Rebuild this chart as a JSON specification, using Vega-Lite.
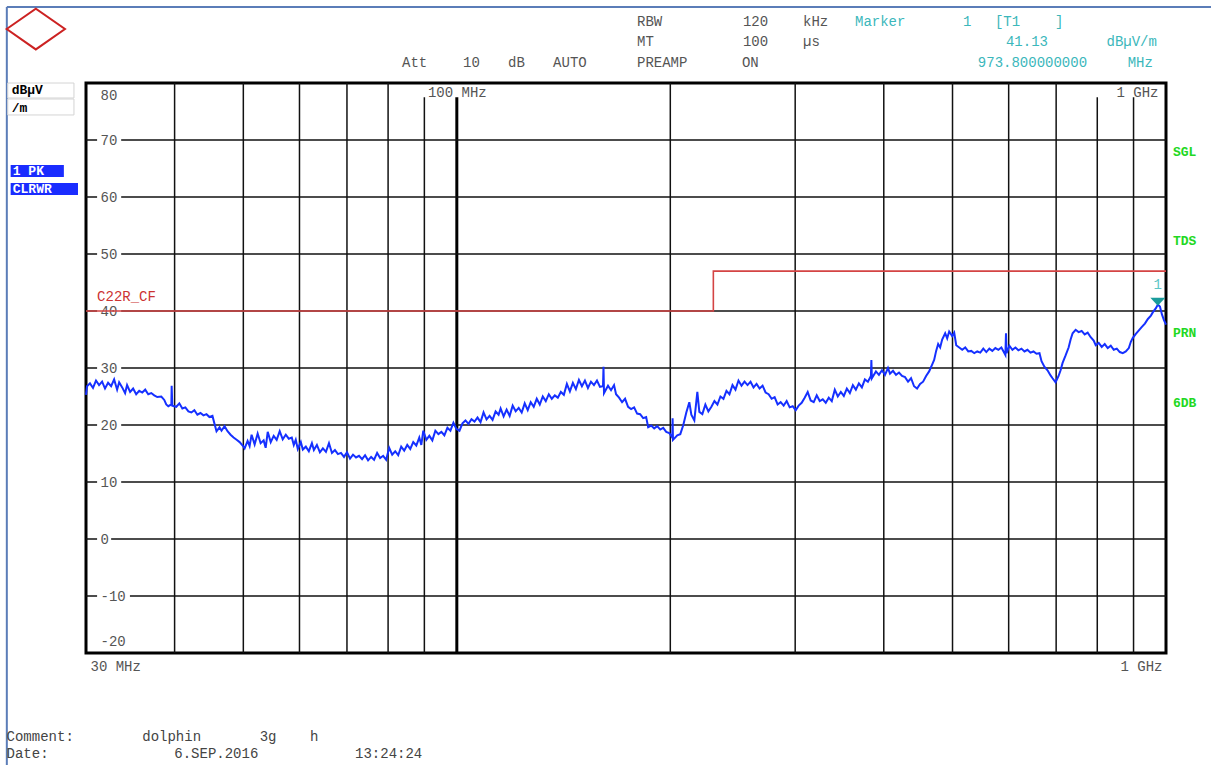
{
  "$schema": "https://vega.github.io/schema/vega-lite/v6.json",
  "width": 1080,
  "height": 570,
  "autosize": {"type": "none"},
  "padding": {"left": 86, "top": 83, "right": 45, "bottom": 112},
  "background": "white",
  "config": {"view": {"stroke": "#000", "strokeWidth": 3}},
  "resolve": {"axis": {"x": "independent", "y": "independent"}},
  "datasets": {
    "trace": [
      {"f":30.00,"v":25.3},{"f":30.10,"v":26.8},{"f":30.39,"v":27.3},{"f":30.69,"v":26.5},{"f":30.99,"v":27.8},{"f":31.30,"v":27.0},{"f":31.61,"v":27.6},{"f":31.91,"v":26.4},{"f":32.23,"v":27.4},{"f":32.55,"v":26.8},{"f":32.87,"v":28.0},{"f":33.19,"v":26.2},{"f":33.41,"v":27.5},{"f":33.74,"v":26.6},{"f":34.06,"v":25.6},{"f":34.28,"v":27.0},{"f":34.62,"v":25.8},{"f":34.96,"v":26.4},{"f":35.31,"v":25.4},{"f":35.66,"v":26.0},{"f":36.01,"v":25.7},{"f":36.36,"v":26.2},{"f":36.72,"v":25.4},{"f":37.08,"v":25.6},{"f":37.44,"v":25.2},{"f":37.81,"v":24.9},{"f":38.31,"v":25.0},{"f":38.68,"v":24.4},{"f":38.93,"v":23.6},{"f":39.19,"v":23.3},{"f":39.58,"v":23.6},{"f":39.62,"v":26.9},{"f":39.70,"v":23.4},{"f":40.22,"v":23.2},{"f":40.62,"v":23.8},{"f":41.02,"v":22.9},{"f":41.42,"v":23.1},{"f":41.83,"v":22.4},{"f":42.24,"v":22.2},{"f":42.65,"v":22.6},{"f":43.07,"v":21.8},{"f":43.50,"v":22.1},{"f":43.93,"v":21.7},{"f":44.36,"v":21.9},{"f":44.79,"v":21.4},{"f":45.23,"v":21.6},{"f":45.53,"v":20.2},{"f":45.83,"v":18.9},{"f":46.28,"v":19.6},{"f":46.58,"v":19.0},{"f":47.04,"v":19.8},{"f":47.50,"v":18.9},{"f":47.97,"v":18.3},{"f":48.44,"v":17.8},{"f":48.92,"v":17.4},{"f":49.40,"v":17.0},{"f":49.89,"v":16.4},{"f":50.21,"v":15.9},{"f":50.70,"v":17.2},{"f":51.03,"v":16.3},{"f":51.36,"v":18.3},{"f":51.87,"v":16.6},{"f":52.38,"v":18.5},{"f":52.89,"v":16.8},{"f":53.41,"v":17.3},{"f":53.76,"v":16.0},{"f":54.12,"v":18.8},{"f":54.65,"v":17.0},{"f":55.18,"v":18.1},{"f":55.72,"v":17.4},{"f":56.27,"v":18.9},{"f":56.82,"v":17.5},{"f":57.39,"v":18.3},{"f":57.95,"v":17.6},{"f":58.52,"v":17.8},{"f":58.90,"v":16.5},{"f":59.28,"v":17.4},{"f":59.67,"v":15.8},{"f":60.26,"v":17.0},{"f":60.65,"v":15.7},{"f":61.25,"v":16.2},{"f":61.85,"v":15.4},{"f":62.47,"v":16.8},{"f":62.87,"v":15.6},{"f":63.49,"v":16.5},{"f":64.11,"v":15.2},{"f":64.74,"v":15.9},{"f":65.38,"v":15.3},{"f":66.03,"v":16.8},{"f":66.67,"v":15.1},{"f":67.32,"v":15.6},{"f":67.98,"v":14.9},{"f":68.65,"v":15.1},{"f":69.33,"v":14.4},{"f":70.01,"v":15.2},{"f":70.70,"v":14.1},{"f":71.39,"v":14.8},{"f":72.09,"v":14.3},{"f":72.80,"v":14.6},{"f":73.52,"v":14.0},{"f":74.24,"v":14.7},{"f":74.97,"v":13.8},{"f":75.71,"v":14.4},{"f":76.45,"v":13.9},{"f":77.20,"v":15.1},{"f":77.96,"v":14.2},{"f":78.73,"v":14.6},{"f":79.50,"v":13.9},{"f":80.28,"v":16.0},{"f":81.07,"v":14.8},{"f":81.87,"v":15.4},{"f":82.67,"v":14.7},{"f":83.48,"v":16.2},{"f":84.30,"v":15.5},{"f":85.13,"v":16.5},{"f":85.97,"v":15.8},{"f":86.81,"v":17.0},{"f":87.67,"v":16.4},{"f":88.53,"v":17.8},{"f":89.11,"v":16.5},{"f":89.69,"v":19.0},{"f":90.57,"v":17.4},{"f":91.46,"v":18.1},{"f":92.36,"v":17.3},{"f":93.27,"v":19.0},{"f":94.19,"v":18.4},{"f":95.11,"v":18.8},{"f":96.04,"v":18.2},{"f":96.99,"v":19.5},{"f":97.94,"v":19.0},{"f":98.90,"v":20.4},{"f":99.87,"v":19.3},{"f":100.86,"v":19.0},{"f":101.85,"v":20.3},{"f":102.85,"v":20.8},{"f":103.86,"v":20.2},{"f":104.88,"v":21.0},{"f":105.91,"v":20.6},{"f":106.95,"v":21.3},{"f":108.01,"v":20.5},{"f":109.07,"v":22.2},{"f":110.14,"v":21.0},{"f":111.22,"v":21.6},{"f":112.31,"v":20.9},{"f":113.42,"v":22.4},{"f":114.53,"v":21.8},{"f":115.28,"v":22.9},{"f":116.41,"v":21.5},{"f":117.55,"v":22.7},{"f":118.71,"v":21.6},{"f":119.88,"v":23.4},{"f":121.06,"v":22.4},{"f":122.25,"v":23.0},{"f":123.45,"v":22.2},{"f":124.66,"v":23.8},{"f":125.89,"v":22.6},{"f":127.12,"v":24.0},{"f":128.37,"v":23.2},{"f":129.63,"v":24.6},{"f":130.91,"v":23.6},{"f":132.19,"v":25.0},{"f":133.49,"v":24.2},{"f":134.80,"v":25.4},{"f":136.12,"v":24.6},{"f":137.46,"v":25.2},{"f":138.81,"v":24.8},{"f":140.18,"v":25.8},{"f":141.56,"v":25.3},{"f":142.95,"v":27.2},{"f":144.35,"v":25.9},{"f":145.77,"v":27.4},{"f":147.20,"v":26.3},{"f":148.65,"v":27.9},{"f":150.11,"v":26.8},{"f":151.58,"v":27.8},{"f":153.07,"v":26.5},{"f":154.58,"v":27.6},{"f":156.10,"v":27.0},{"f":157.63,"v":27.8},{"f":159.18,"v":26.7},{"f":160.74,"v":26.8},{"f":161.00,"v":30.2},{"f":161.27,"v":25.6},{"f":163.38,"v":26.9},{"f":164.99,"v":26.1},{"f":166.61,"v":27.0},{"f":167.70,"v":25.4},{"f":169.35,"v":24.8},{"f":171.01,"v":24.0},{"f":172.69,"v":24.6},{"f":174.38,"v":23.2},{"f":176.10,"v":22.8},{"f":177.83,"v":23.1},{"f":179.57,"v":22.0},{"f":181.34,"v":21.9},{"f":183.12,"v":21.2},{"f":184.92,"v":21.4},{"f":186.13,"v":19.6},{"f":187.96,"v":19.9},{"f":189.81,"v":19.4},{"f":191.67,"v":19.8},{"f":193.56,"v":19.2},{"f":195.45,"v":19.5},{"f":197.37,"v":18.8},{"f":199.31,"v":18.6},{"f":201.27,"v":17.8},{"f":201.50,"v":21.2},{"f":201.75,"v":17.4},{"f":204.58,"v":18.2},{"f":206.59,"v":18.4},{"f":208.62,"v":20.0},{"f":210.67,"v":22.2},{"f":212.74,"v":24.0},{"f":214.13,"v":21.8},{"f":216.23,"v":20.8},{"f":218.35,"v":25.8},{"f":219.78,"v":22.3},{"f":221.94,"v":21.9},{"f":224.12,"v":23.6},{"f":226.32,"v":22.4},{"f":228.55,"v":23.2},{"f":230.80,"v":24.2},{"f":233.06,"v":23.6},{"f":235.35,"v":25.0},{"f":237.66,"v":24.6},{"f":239.99,"v":26.0},{"f":242.35,"v":25.4},{"f":244.74,"v":27.0},{"f":247.14,"v":26.2},{"f":249.56,"v":27.8},{"f":252.02,"v":26.9},{"f":254.50,"v":27.6},{"f":257.00,"v":27.0},{"f":259.52,"v":27.6},{"f":262.06,"v":26.6},{"f":264.64,"v":27.2},{"f":267.24,"v":26.4},{"f":269.87,"v":26.9},{"f":272.52,"v":25.7},{"f":275.20,"v":25.4},{"f":277.90,"v":24.6},{"f":280.63,"v":24.9},{"f":283.38,"v":23.6},{"f":286.17,"v":24.0},{"f":288.98,"v":23.4},{"f":291.82,"v":24.2},{"f":294.69,"v":23.1},{"f":297.58,"v":23.3},{"f":300.50,"v":22.6},{"f":303.40,"v":23.4},{"f":306.39,"v":23.9},{"f":309.40,"v":24.8},{"f":312.44,"v":25.8},{"f":315.51,"v":24.3},{"f":318.61,"v":24.0},{"f":321.74,"v":25.2},{"f":324.90,"v":24.2},{"f":328.09,"v":24.5},{"f":331.31,"v":23.9},{"f":334.56,"v":24.8},{"f":337.85,"v":24.2},{"f":341.17,"v":26.2},{"f":344.52,"v":25.0},{"f":347.91,"v":25.8},{"f":351.32,"v":25.1},{"f":354.78,"v":26.4},{"f":358.27,"v":25.6},{"f":361.78,"v":27.0},{"f":365.33,"v":26.2},{"f":368.92,"v":27.3},{"f":372.54,"v":26.6},{"f":376.20,"v":28.0},{"f":379.90,"v":27.6},{"f":383.63,"v":28.6},{"f":384.20,"v":31.4},{"f":384.80,"v":28.2},{"f":389.93,"v":29.4},{"f":393.76,"v":28.8},{"f":397.63,"v":29.6},{"f":401.54,"v":28.8},{"f":405.48,"v":30.0},{"f":408.13,"v":29.0},{"f":412.14,"v":29.5},{"f":416.19,"v":28.8},{"f":420.27,"v":29.2},{"f":424.40,"v":28.6},{"f":428.57,"v":28.4},{"f":432.78,"v":27.6},{"f":437.03,"v":28.2},{"f":441.33,"v":26.8},{"f":445.66,"v":26.4},{"f":450.04,"v":27.2},{"f":454.46,"v":27.6},{"f":458.92,"v":28.6},{"f":463.43,"v":29.4},{"f":467.98,"v":30.6},{"f":471.04,"v":31.4},{"f":474.12,"v":33.0},{"f":477.22,"v":34.2},{"f":480.34,"v":33.6},{"f":483.48,"v":35.0},{"f":488.23,"v":36.1},{"f":491.42,"v":35.2},{"f":494.63,"v":36.4},{"f":499.49,"v":35.6},{"f":502.76,"v":36.2},{"f":506.04,"v":34.0},{"f":511.02,"v":33.6},{"f":516.03,"v":33.2},{"f":521.10,"v":33.6},{"f":526.22,"v":32.9},{"f":531.39,"v":33.0},{"f":536.61,"v":32.6},{"f":541.88,"v":32.9},{"f":547.20,"v":32.7},{"f":552.58,"v":33.4},{"f":558.01,"v":32.8},{"f":563.49,"v":33.4},{"f":569.02,"v":33.0},{"f":574.61,"v":33.5},{"f":580.26,"v":33.2},{"f":585.96,"v":33.6},{"f":593.65,"v":32.3},{"f":594.80,"v":36.1},{"f":595.90,"v":32.6},{"f":601.43,"v":33.9},{"f":607.34,"v":33.2},{"f":613.31,"v":33.6},{"f":619.32,"v":33.1},{"f":625.41,"v":33.4},{"f":631.55,"v":32.9},{"f":637.76,"v":33.2},{"f":644.03,"v":32.7},{"f":650.35,"v":32.9},{"f":656.74,"v":32.5},{"f":663.19,"v":32.6},{"f":667.52,"v":31.2},{"f":674.08,"v":30.2},{"f":680.70,"v":29.6},{"f":687.39,"v":28.7},{"f":691.88,"v":28.2},{"f":698.68,"v":27.5},{"f":705.55,"v":28.6},{"f":710.16,"v":29.6},{"f":714.80,"v":30.9},{"f":721.82,"v":32.2},{"f":728.91,"v":33.6},{"f":733.68,"v":35.0},{"f":738.47,"v":36.1},{"f":745.73,"v":36.7},{"f":753.05,"v":36.3},{"f":760.45,"v":36.5},{"f":767.92,"v":35.9},{"f":775.46,"v":36.2},{"f":783.08,"v":35.4},{"f":790.77,"v":34.8},{"f":795.94,"v":34.0},{"f":803.76,"v":34.4},{"f":811.65,"v":33.7},{"f":819.62,"v":34.2},{"f":827.68,"v":33.5},{"f":835.81,"v":33.9},{"f":844.02,"v":33.2},{"f":852.31,"v":33.4},{"f":860.68,"v":32.8},{"f":869.13,"v":32.6},{"f":877.67,"v":32.9},{"f":886.29,"v":33.5},{"f":892.09,"v":34.6},{"f":897.92,"v":35.3},{"f":906.74,"v":36.0},{"f":915.65,"v":36.6},{"f":924.64,"v":37.2},{"f":933.73,"v":37.8},{"f":942.90,"v":38.6},{"f":952.16,"v":39.2},{"f":958.39,"v":39.8},{"f":967.81,"v":40.5},{"f":973.80,"v":41.13},{"f":980.51,"v":40.8},{"f":986.92,"v":39.4},{"f":993.37,"v":38.4},{"f":1000.00,"v":37.6}
    ],
    "limit": [{"i":0,"f":30,"v":40},{"i":1,"f":230,"v":40},{"i":2,"f":230,"v":47},{"i":3,"f":1000,"v":47}],
    "vfull": [{"f":40},{"f":50},{"f":60},{"f":70},{"f":80},{"f":200},{"f":300},{"f":400},{"f":500},{"f":600},{"f":700}],
    "vshort": [{"f":90,"t":77.5,"b":-20},{"f":800,"t":77.5,"b":-20},{"f":900,"t":77.5,"b":-20}],
    "vhundred": [{"f":100,"t":77.5,"b":-20}],
    "hgrid": [
      {"v":70,"a":30,"b":31.1},{"v":70,"a":33.63,"b":1000},
      {"v":60,"a":30,"b":31.1},{"v":60,"a":33.63,"b":1000},
      {"v":50,"a":30,"b":31.1},{"v":50,"a":33.63,"b":1000},
      {"v":40,"a":30,"b":31.1},{"v":40,"a":33.63,"b":1000},
      {"v":30,"a":30,"b":31.1},{"v":30,"a":33.63,"b":1000},
      {"v":20,"a":30,"b":31.1},{"v":20,"a":33.63,"b":1000},
      {"v":10,"a":30,"b":31.1},{"v":10,"a":33.63,"b":1000},
      {"v":0,"a":30,"b":31.1},{"v":0,"a":32.55,"b":1000},
      {"v":-10,"a":30,"b":31.1},{"v":-10,"a":34.6,"b":1000}
    ],
    "frameV": [{"a":23.2,"t":93.33,"b":-39.65}],
    "frameH": [{"a":23.2,"b":1170,"t":93.33}],
    "logo": [{"f":25.49,"v":89.47}],
    "boxes": [{"a":23.27,"b":28.85,"t":80,"u":77.37},{"a":23.27,"b":28.85,"t":77.19,"u":74.39}],
    "tagsBg": [{"a":23.49,"b":27.92,"t":65.61,"u":63.51},{"a":23.49,"b":29.23,"t":62.46,"u":60.35}],
    "hdrLeft": [
      {"t":"RBW","f":179.5,"v":90.7},{"t":"120","f":253.2,"v":90.7},{"t":"kHz","f":307.7,"v":90.7},
      {"t":"MT","f":179.5,"v":87.19},{"t":"100","f":253.2,"v":87.19},{"t":"µs","f":307.7,"v":87.19},
      {"t":"Att","f":83.69,"v":83.51},{"t":"10","f":102.05,"v":83.51},{"t":"dB","f":118.1,"v":83.51},{"t":"AUTO","f":136.7,"v":83.51},
      {"t":"PREAMP","f":179.5,"v":83.51},{"t":"ON","f":252.4,"v":83.51}
    ],
    "hdrTealLeft": [
      {"t":"Marker","f":364.3,"v":90.7},{"t":"1","f":517.4,"v":90.7},{"t":"[T1","f":573.9,"v":90.7},{"t":"]","f":697.5,"v":90.7}
    ],
    "hdrTealRight": [
      {"t":"41.13","f":681.7,"v":87.19},{"t":"dBµV/m","f":970.9,"v":87.19},
      {"t":"973.800000000","f":773.9,"v":83.51},{"t":"MHz","f":958.4,"v":83.51}
    ],
    "footer": [
      {"t":"Comment:","f":23.18,"v":-34.74},{"t":"dolphin","f":36.01,"v":-34.74},{"t":"3g","f":52.72,"v":-34.74},{"t":"h","f":62.06,"v":-34.74},
      {"t":"Date:","f":23.18,"v":-37.72},{"t":"6.SEP.2016","f":39.96,"v":-37.72},{"t":"13:24:24","f":71.86,"v":-37.72}
    ],
    "unit": [{"t":"dBµV","f":23.57,"v":78.77},{"t":"/m","f":23.57,"v":75.61}],
    "modes": [{"t":"1 PK","f":23.65,"v":64.56},{"t":"CLRWR","f":23.65,"v":61.4}],
    "status": [{"t":"SGL","f":1023.0,"v":67.89},{"t":"TDS","f":1023.0,"v":52.28},{"t":"PRN","f":1023.0,"v":36.14},{"t":"6DB","f":1023.0,"v":23.86}],
    "limitName": [{"t":"C22R_CF","f":31.1,"v":42.5}],
    "markerPt": [{"f":973.8,"v":41.6}],
    "markerLbl": [{"t":"1","f":973.8,"v":44.56}]
  },
  "layer": [
    {"data":{"name":"frameV"},"mark":{"type":"rule","color":"#5b7db8","strokeWidth":2},
     "encoding":{"x":{"field":"a","type":"quantitative","scale":{"type":"log","domain":[30,1000],"nice":false},"axis":null},
                 "y":{"field":"t","type":"quantitative","scale":{"domain":[-20,80],"nice":false,"zero":false},"axis":null},"y2":{"field":"b"}}},
    {"data":{"name":"frameH"},"mark":{"type":"rule","color":"#5b7db8","strokeWidth":2},
     "encoding":{"x":{"field":"a","type":"quantitative","scale":{"type":"log","domain":[30,1000],"nice":false},"axis":null},"x2":{"field":"b"},
                 "y":{"field":"t","type":"quantitative","scale":{"domain":[-20,80],"nice":false,"zero":false},"axis":null}}},
    {"data":{"name":"logo"},"mark":{"type":"point","shape":"M-1,0L0,-0.7L1,0L0,0.7Z","filled":false,"stroke":"#cc2222","strokeWidth":2,"opacity":1,"size":3400},
     "encoding":{"x":{"field":"f","type":"quantitative","scale":{"type":"log","domain":[30,1000],"nice":false},"axis":null},
                 "y":{"field":"v","type":"quantitative","scale":{"domain":[-20,80],"nice":false,"zero":false},"axis":null}}},
    {"data":{"name":"boxes"},"mark":{"type":"rect","fill":"white","stroke":"#d4d4d4","strokeWidth":1},
     "encoding":{"x":{"field":"a","type":"quantitative","scale":{"type":"log","domain":[30,1000],"nice":false},"axis":null},"x2":{"field":"b"},
                 "y":{"field":"t","type":"quantitative","scale":{"domain":[-20,80],"nice":false,"zero":false},"axis":null},"y2":{"field":"u"}}},
    {"data":{"name":"tagsBg"},"mark":{"type":"rect","fill":"#1a2cff"},
     "encoding":{"x":{"field":"a","type":"quantitative","scale":{"type":"log","domain":[30,1000],"nice":false},"axis":null},"x2":{"field":"b"},
                 "y":{"field":"t","type":"quantitative","scale":{"domain":[-20,80],"nice":false,"zero":false},"axis":null},"y2":{"field":"u"}}},
    {"data":{"name":"vfull"},"mark":{"type":"rule","color":"#111","strokeWidth":1.5},
     "encoding":{"x":{"field":"f","type":"quantitative","scale":{"type":"log","domain":[30,1000],"nice":false},"axis":null}}},
    {"data":{"name":"vshort"},"mark":{"type":"rule","color":"#111","strokeWidth":1.5},
     "encoding":{"x":{"field":"f","type":"quantitative","scale":{"type":"log","domain":[30,1000],"nice":false},"axis":null},
                 "y":{"field":"t","type":"quantitative","scale":{"domain":[-20,80],"nice":false,"zero":false},"axis":null},"y2":{"field":"b"}}},
    {"data":{"name":"vhundred"},"mark":{"type":"rule","color":"#000","strokeWidth":3},
     "encoding":{"x":{"field":"f","type":"quantitative","scale":{"type":"log","domain":[30,1000],"nice":false},"axis":null},
                 "y":{"field":"t","type":"quantitative","scale":{"domain":[-20,80],"nice":false,"zero":false},"axis":null},"y2":{"field":"b"}}},
    {"data":{"name":"hgrid"},"mark":{"type":"rule","color":"#111","strokeWidth":1.5},
     "encoding":{"x":{"field":"a","type":"quantitative","scale":{"type":"log","domain":[30,1000],"nice":false},"axis":null},"x2":{"field":"b"},
                 "y":{"field":"v","type":"quantitative","scale":{"domain":[-20,80],"nice":false,"zero":false},"axis":null}}},
    {"data":{"name":"limit"},"mark":{"type":"line","color":"#d44444","strokeWidth":1.6},
     "encoding":{
       "x":{"field":"f","type":"quantitative","scale":{"type":"log","domain":[30,1000],"nice":false},
            "axis":{"orient":"top","values":[100,1000],"grid":false,"domain":false,"ticks":false,"tickSize":0,"labelPadding":-9,"labelBaseline":"middle","labelFlush":true,"labelFlushOffset":-8,"labelFont":"Liberation Mono","labelFontSize":14,"labelColor":"#555","labelExpr":"datum.value < 500 ? '100 MHz' : '1 GHz'","title":null}},
       "y":{"field":"v","type":"quantitative","scale":{"domain":[-20,80],"nice":false,"zero":false},"axis":null},
       "order":{"field":"i","type":"quantitative"}}},
    {"data":{"name":"trace"},"mark":{"type":"line","color":"#1530ff","strokeWidth":2},
     "encoding":{
       "x":{"field":"f","type":"quantitative","scale":{"type":"log","domain":[30,1000],"nice":false},
            "axis":{"orient":"bottom","values":[30,1000],"grid":false,"domain":false,"ticks":false,"tickSize":0,"labelPadding":6,"labelFlush":true,"labelFlushOffset":-4,"labelFont":"Liberation Mono","labelFontSize":14,"labelColor":"#555","labelExpr":"datum.value < 100 ? '30 MHz' : '1 GHz'","title":null}},
       "y":{"field":"v","type":"quantitative","scale":{"domain":[-20,80],"nice":false,"zero":false},
            "axis":{"orient":"left","values":[80,70,60,50,40,30,20,10,0,-10,-20],"grid":false,"domain":false,"ticks":false,"tickSize":0,"labelAlign":"left","labelPadding":-14,"labelFlush":true,"labelFlushOffset":-5,"labelFont":"Liberation Mono","labelFontSize":14,"labelColor":"#555","labelExpr":"datum.value + ''","title":null}}}},
    {"data":{"name":"markerPt"},"mark":{"type":"point","shape":"M-1,-0.55L1,-0.55L0,0.5Z","filled":true,"color":"#1a9c9c","opacity":1,"size":225},
     "encoding":{"x":{"field":"f","type":"quantitative","scale":{"type":"log","domain":[30,1000],"nice":false},"axis":null},
                 "y":{"field":"v","type":"quantitative","scale":{"domain":[-20,80],"nice":false,"zero":false},"axis":null}}},
    {"data":{"name":"markerLbl"},"mark":{"type":"text","font":"Liberation Mono","fontSize":14,"color":"#5cc6c6","align":"center","baseline":"middle"},
     "encoding":{"x":{"field":"f","type":"quantitative","scale":{"type":"log","domain":[30,1000],"nice":false},"axis":null},
                 "y":{"field":"v","type":"quantitative","scale":{"domain":[-20,80],"nice":false,"zero":false},"axis":null},"text":{"field":"t"}}},
    {"data":{"name":"limitName"},"mark":{"type":"text","font":"Liberation Mono","fontSize":14,"color":"#cc3333","align":"left","baseline":"middle"},
     "encoding":{"x":{"field":"f","type":"quantitative","scale":{"type":"log","domain":[30,1000],"nice":false},"axis":null},
                 "y":{"field":"v","type":"quantitative","scale":{"domain":[-20,80],"nice":false,"zero":false},"axis":null},"text":{"field":"t"}}},
    {"data":{"name":"hdrLeft"},"mark":{"type":"text","font":"Liberation Mono","fontSize":14,"color":"#555","align":"left","baseline":"middle"},
     "encoding":{"x":{"field":"f","type":"quantitative","scale":{"type":"log","domain":[30,1000],"nice":false},"axis":null},
                 "y":{"field":"v","type":"quantitative","scale":{"domain":[-20,80],"nice":false,"zero":false},"axis":null},"text":{"field":"t"}}},
    {"data":{"name":"hdrTealLeft"},"mark":{"type":"text","font":"Liberation Mono","fontSize":14,"color":"#3bb7bb","align":"left","baseline":"middle"},
     "encoding":{"x":{"field":"f","type":"quantitative","scale":{"type":"log","domain":[30,1000],"nice":false},"axis":null},
                 "y":{"field":"v","type":"quantitative","scale":{"domain":[-20,80],"nice":false,"zero":false},"axis":null},"text":{"field":"t"}}},
    {"data":{"name":"hdrTealRight"},"mark":{"type":"text","font":"Liberation Mono","fontSize":14,"color":"#3bb7bb","align":"right","baseline":"middle"},
     "encoding":{"x":{"field":"f","type":"quantitative","scale":{"type":"log","domain":[30,1000],"nice":false},"axis":null},
                 "y":{"field":"v","type":"quantitative","scale":{"domain":[-20,80],"nice":false,"zero":false},"axis":null},"text":{"field":"t"}}},
    {"data":{"name":"footer"},"mark":{"type":"text","font":"Liberation Mono","fontSize":14,"color":"#444","align":"left","baseline":"middle"},
     "encoding":{"x":{"field":"f","type":"quantitative","scale":{"type":"log","domain":[30,1000],"nice":false},"axis":null},
                 "y":{"field":"v","type":"quantitative","scale":{"domain":[-20,80],"nice":false,"zero":false},"axis":null},"text":{"field":"t"}}},
    {"data":{"name":"unit"},"mark":{"type":"text","font":"Liberation Mono","fontSize":13,"fontWeight":"bold","color":"#000","align":"left","baseline":"middle"},
     "encoding":{"x":{"field":"f","type":"quantitative","scale":{"type":"log","domain":[30,1000],"nice":false},"axis":null},
                 "y":{"field":"v","type":"quantitative","scale":{"domain":[-20,80],"nice":false,"zero":false},"axis":null},"text":{"field":"t"}}},
    {"data":{"name":"modes"},"mark":{"type":"text","font":"Liberation Mono","fontSize":13,"fontWeight":"bold","color":"#fff","align":"left","baseline":"middle"},
     "encoding":{"x":{"field":"f","type":"quantitative","scale":{"type":"log","domain":[30,1000],"nice":false},"axis":null},
                 "y":{"field":"v","type":"quantitative","scale":{"domain":[-20,80],"nice":false,"zero":false},"axis":null},"text":{"field":"t"}}},
    {"data":{"name":"status"},"mark":{"type":"text","font":"Liberation Mono","fontSize":13,"fontWeight":"bold","color":"#22d822","align":"left","baseline":"middle"},
     "encoding":{"x":{"field":"f","type":"quantitative","scale":{"type":"log","domain":[30,1000],"nice":false},"axis":null},
                 "y":{"field":"v","type":"quantitative","scale":{"domain":[-20,80],"nice":false,"zero":false},"axis":null},"text":{"field":"t"}}}
  ]
}
